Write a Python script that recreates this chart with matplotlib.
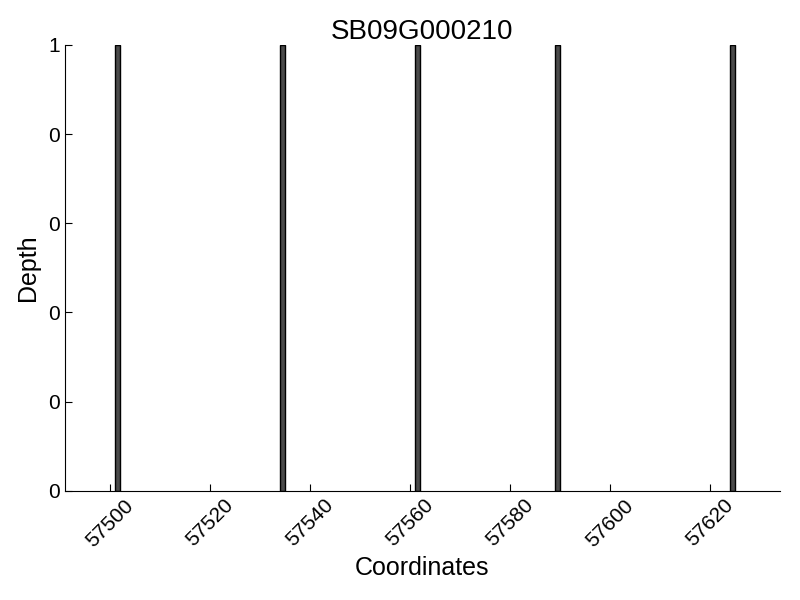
import matplotlib
matplotlib.use('Agg')
import matplotlib.pyplot as plt
from matplotlib.ticker import FormatStrFormatter

plt.rcParams['font.family'] = ['Liberation Sans', 'DejaVu Sans']

gene = 'SB09G000210'
coords = [57501, 57534, 57561, 57589, 57624]
depth = [1, 1, 1, 1, 1]


def plot_depth(coords, depth, name):

    fig, ax = plt.subplots(figsize=(8, 6), dpi=100)

    ax.bar(coords, depth, width=1, align='edge',
           color='#4a4a4a', edgecolor='black', linewidth=1)

    ax.set_xlim(min(coords) - 10, max(coords) + 10)
    ax.set_ylim(0, 1)
    ax.set_xticks(range(57500, 57640, 20))
    ax.set_yticks([0, 0.2, 0.4, 0.6, 0.8, 1.0])
    ax.yaxis.set_major_formatter(FormatStrFormatter('%d'))

    ax.spines['top'].set_visible(False)
    ax.spines['right'].set_visible(False)
    ax.tick_params(direction='in', length=5, labelsize=15, top=False, right=False)
    plt.setp(ax.get_xticklabels(), rotation=45)

    ax.set_title(name, fontsize=20, pad=4)
    ax.set_xlabel('Coordinates', fontsize=18)
    ax.set_ylabel('Depth', fontsize=18, labelpad=6)

    fig.subplots_adjust(left=0.081, right=0.975, top=0.925, bottom=0.182)
    plt.savefig('out.png')
    plt.close()


if __name__ == '__main__':
    plot_depth(coords, depth, gene)
